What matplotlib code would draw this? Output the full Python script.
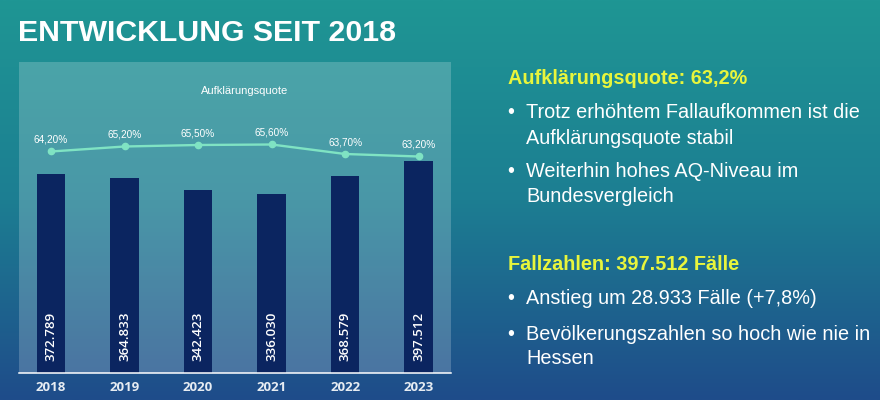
import numpy as np
import matplotlib
matplotlib.use("Agg")
import matplotlib.pyplot as plt
from matplotlib.colors import LinearSegmentedColormap
from matplotlib.patches import Rectangle

years = ["2018", "2019", "2020", "2021", "2022", "2023"]
cases = [372789, 364833, 342423, 336030, 368579, 397512]
case_labels = ["372.789", "364.833", "342.423", "336.030", "368.579", "397.512"]
rate = [64.2, 65.2, 65.5, 65.6, 63.7, 63.2]
rate_labels = ["64,20%", "65,20%", "65,50%", "65,60%", "63,70%", "63,20%"]

W, H = 880, 400
fig = plt.figure(figsize=(W / 100, H / 100), dpi=100)

def fx(px):
    return px / W

def fy(py):
    return 1 - py / H

# background gradient
bg = fig.add_axes([0, 0, 1, 1], zorder=0)
bg.set_axis_off()
cmap = LinearSegmentedColormap.from_list(
    "bg", [(0.0, "#1F9694"), (0.5, "#1C7E92"), (1.0, "#1F4C8A")])
grad = np.linspace(0, 1, 256).reshape(-1, 1)
bg.imshow(grad, aspect="auto", cmap=cmap, extent=[0, 1, 0, 1], origin="upper")
bg.set_xlim(0, 1)
bg.set_ylim(0, 1)

# panel
bg.add_patch(Rectangle((fx(19), fy(372.5)), fx(451) - fx(19), fy(62) - fy(372.5),
                       facecolor="white", alpha=0.2, edgecolor="none",
                       transform=bg.transAxes))

# title
fig.text(fx(18), fy(33), "ENTWICKLUNG SEIT 2018", family="Liberation Sans",
         weight="bold", fontsize=21.8, color="white", va="center", ha="left")

# chart axes
ax = fig.add_axes([fx(19), fy(372.5), fx(451) - fx(19), fy(62) - fy(372.5)], zorder=2)
ax.patch.set_visible(False)
x = np.arange(len(years))
ax.bar(x, cases, width=0.39, color="#0B2560", zorder=2)
ax.set_xlim(-0.435, 5.44)
ax.set_ylim(0, 583600)
for s in ["top", "right", "left"]:
    ax.spines[s].set_visible(False)
ax.spines["bottom"].set_color("white")
ax.spines["bottom"].set_linewidth(1.1)
ax.set_yticks([])
ax.set_xticks(x)
ax.set_xticklabels(years, family="Open Sans", fontsize=9.5, weight="bold",
                   color="#E6ECF2")
ax.tick_params(axis="x", length=0, pad=6)
for xi, lab in zip(x, case_labels):
    ax.annotate(lab, xy=(xi, 0), xytext=(0, 8), textcoords="offset points",
                rotation=90, ha="center", va="bottom", color="white",
                family="Open Sans", fontsize=9.5, weight="semibold", zorder=3)

ax2 = ax.twinx()
ax2.set_ylim(20, 82.1)
ax2.set_axis_off()
ax2.plot(x, rate, color="#7FE3C3", linewidth=1.7, marker="o", markersize=4.5,
         zorder=4)
for xi, v, lab in zip(x, rate, rate_labels):
    ax2.annotate(lab, xy=(xi, v), xytext=(0, 8.6), textcoords="offset points",
                 ha="center", va="center", color="white",
                 family="Liberation Sans", fontsize=7.2)

fig.text(fx(244.5), fy(90.7), "Aufklärungsquote", family="Liberation Sans",
         fontsize=8, color="white", ha="center", va="center")

# right side text
yellow = "#E8F53C"
fs = 14.3
fig.text(fx(508), fy(79), "Aufklärungsquote: 63,2%", family="Liberation Sans",
         weight="bold", fontsize=fs, color=yellow, va="center")
fig.text(fx(508), fy(265), "Fallzahlen: 397.512 Fälle", family="Liberation Sans",
         weight="bold", fontsize=fs, color=yellow, va="center")

bullets = [
    (113, "Trotz erhöhtem Fallaufkommen ist die", True),
    (138, "Aufklärungsquote stabil", False),
    (172, "Weiterhin hohes AQ-Niveau im", True),
    (197, "Bundesvergleich", False),
    (299, "Anstieg um 28.933 Fälle (+7,8%)", True),
    (334, "Bevölkerungszahlen so hoch wie nie in", True),
    (358, "Hessen", False),
]
for py, txt, has_bullet in bullets:
    if has_bullet:
        fig.text(fx(507), fy(py), "•", family="Liberation Sans", fontsize=fs,
                 color="white", va="center")
    fig.text(fx(526), fy(py), txt, family="Liberation Sans", fontsize=fs,
             color="white", va="center")

fig.savefig("out.png", dpi=100)
